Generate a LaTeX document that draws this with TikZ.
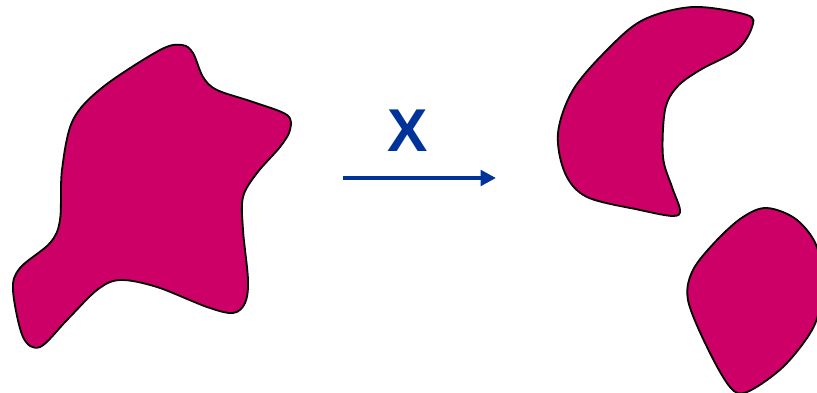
\documentclass[tikz,border=0pt]{standalone}
\usepackage{fontspec}
\setmainfont{Liberation Sans}
\usetikzlibrary{arrows.meta,positioning}
\definecolor{blobred}{HTML}{CC0066}
\definecolor{mapblue}{HTML}{003399}

\begin{document}
\begin{tikzpicture}[
  x=0.025cm, y=-0.025cm,
  blob/.style={draw=black, fill=blobred, line width=1.3pt, smooth cycle, tension=0.55},
  maparrow/.style={-{Triangle[length=11pt, width=11pt]}, draw=mapblue, line width=2.8pt},
  maplabel/.style={text=mapblue, font=\bfseries\fontsize{43}{43}\selectfont, inner sep=0pt}
]
  \useasboundingbox (0,0) rectangle (817,393);
  \clip (0,0) rectangle (817,393);
  % left shape
  \draw[blob] plot coordinates {(182,45) (193,53) (203,77) (217,90) (253,102) (287,115) (290,130)
    (280,147) (257,173) (243,197) (243,230) (248,280) (245,303) (233,313) (207,307) (157,287)
    (120,280) (97,290) (67,320) (40,347) (23,337) (13,290) (20,268) (50,243) (60,220) (62,170)
    (73,120) (103,87) (160,50)};
  % right shapes
  \draw[blob] plot coordinates {(693,7) (747,15) (752,27) (737,50) (700,70) (677,87) (665,110)
    (663,157) (672,187) (680,210) (673,216) (640,210) (587,197) (565,173) (558,133) (573,90)
    (607,50) (643,20)};
  \draw[blob] plot coordinates {(767,208) (797,220) (818,250) (820,300) (812,330) (783,367)
    (747,392) (730,387) (707,347) (688,300) (693,270) (717,240) (743,217)};
  % map
  \coordinate (src) at (343,178);
  \coordinate (dst) at (496,178);
  \node[maplabel] (xlabel) at (408,131) {X};
  \draw[maparrow] (src) -- (dst);
\end{tikzpicture}
\end{document}
